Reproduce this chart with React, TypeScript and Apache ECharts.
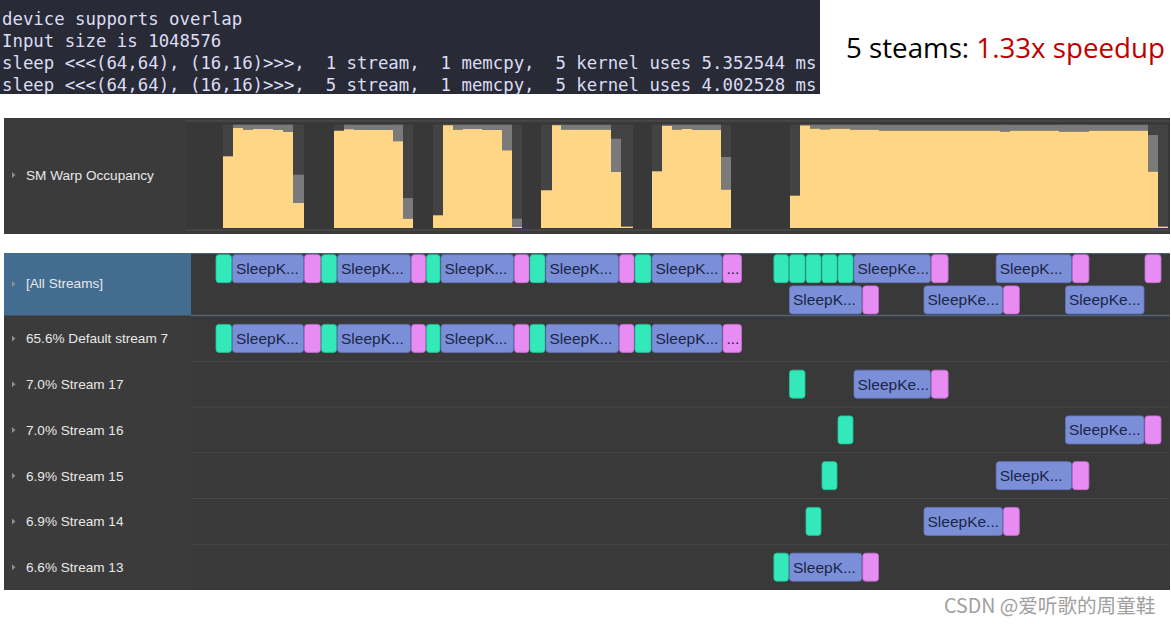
import React, { useEffect, useRef } from "react";
import * as echarts from "echarts";

// ---------- data ----------
const terminalLines = [
  "device supports overlap",
  "Input size is 1048576",
  "sleep <<<(64,64), (16,16)>>>,  1 stream,  1 memcpy,  5 kernel uses 5.352544 ms",
  "sleep <<<(64,64), (16,16)>>>,  5 stream,  1 memcpy,  5 kernel uses 4.002528 ms",
];
const titleBlack = "5 steams: ";
const titleRed = "1.33x speedup";
const watermark = "CSDN @爱听歌的周童鞋";

// stream rows (timeline)
const streamNames = ["Default stream 7", "Stream 17", "Stream 16", "Stream 15", "Stream 14", "Stream 13"];
const streamShare = [65.6, 7.0, 7.0, 6.9, 6.9, 6.6];
const allLanes = ["lane 1", "lane 2"];

// kinds: 0 = Memcpy HtoD, 1 = kernel, 2 = Memcpy DtoH
const kindNames = ["Memcpy HtoD (Pageable -> Device)", "SleepKernel", "Memcpy DtoH (Device -> Pageable)"];

// [streamIndex, kind, start, end, laneInAllStreams]  (time axis units)
const operations: number[][] = [
  [0, 0, 29.5, 46, 0], [0, 1, 46, 118, 0], [0, 2, 118, 135, 0],
  [0, 0, 135, 151, 0], [0, 1, 151, 225, 0], [0, 2, 225, 240, 0],
  [0, 0, 240, 254.5, 0], [0, 1, 254.5, 328, 0], [0, 2, 328, 343.5, 0],
  [0, 0, 343.5, 359.5, 0], [0, 1, 359.5, 433, 0], [0, 2, 433, 448.5, 0],
  [0, 0, 448.5, 465.5, 0], [0, 1, 465.5, 536.5, 0], [0, 2, 536.5, 556, 0],
  [5, 0, 587.4, 603, 0], [5, 1, 603, 676.3, 1], [5, 2, 676.3, 693, 1],
  [1, 0, 603, 619.5, 0], [1, 1, 667.5, 745, 0], [1, 2, 745, 762.6, 0],
  [4, 0, 619.5, 635.5, 0], [4, 1, 737.5, 817, 1], [4, 2, 817, 833.8, 1],
  [3, 0, 635.5, 651.5, 0], [3, 1, 809.7, 886, 0], [3, 2, 886, 903.4, 0],
  [2, 0, 651.5, 667.5, 0], [2, 1, 879, 958.5, 1], [2, 2, 958.5, 975.5, 0],
];

// SM warp occupancy samples: [start, end, occupancy %, max-occupancy % (0 = none)]
const occupancy: number[][] = [
  [37.3, 47.3, 69.4, 0], [47.3, 57.3, 96.8, 100], [57.3, 67.3, 95.2, 100], [67.3, 87.3, 95.8, 100],
  [87.3, 97.3, 94.9, 100], [97.3, 106.7, 92.9, 100], [106.7, 118.3, 24.2, 51.6],
  [148, 158, 94.2, 0], [158, 168, 95.5, 100], [168, 207.3, 94.9, 100], [207.3, 217.3, 83.9, 100],
  [217.3, 226.7, 9.0, 29.0],
  [246.7, 256.7, 12.3, 0], [256.7, 266.7, 99.4, 100], [266.7, 276.7, 95.2, 100], [276.7, 295.7, 95.8, 100],
  [295.7, 316.3, 94.9, 100], [316.3, 325.7, 75.2, 100], [325.7, 335.7, 1.0, 9.0],
  [355.3, 365.7, 36.5, 0], [365.7, 375.3, 99.4, 100], [375.3, 424.7, 95.2, 100], [424.7, 434.7, 54.2, 86.4],
  [434.7, 446.7, 1.3, 0],
  [466.3, 476.3, 54.9, 0], [476.3, 486.3, 98.7, 100], [486.3, 496.3, 95.2, 100], [496.3, 505.7, 95.8, 100],
  [505.7, 535.3, 94.9, 100], [535.3, 545.3, 37.1, 68.7],
  [604.3, 614.3, 31.3, 0], [614.3, 624.3, 99.2, 100], [624.3, 634.3, 96.0, 100], [634.3, 644, 95.4, 100],
  [644, 664, 96.1, 100], [664, 693, 95.2, 100], [693, 814.2, 94.2, 100], [814.2, 823.8, 93.2, 100],
  [823.8, 873.4, 94.2, 100], [873.4, 903, 93.2, 100], [903, 962.4, 94.2, 100], [962.4, 972, 54.5, 90.0],
  [972, 982, 1.3, 0],
];

const timeMax = 984;

// ---------- helpers ----------
const LABEL_FONT = '15.5px "Liberation Sans", Arial, Helvetica, sans-serif';
let measureCtx: CanvasRenderingContext2D | null = null;
function fitText(text: string, avail: number, font: string, ellipsis = "...") {
  if (!measureCtx) measureCtx = document.createElement("canvas").getContext("2d");
  const ctx = measureCtx!;
  ctx.font = font;
  if (ctx.measureText(text).width <= avail) return text;
  for (let n = text.length - 1; n >= 0; n--) {
    const s = text.slice(0, n) + ellipsis;
    if (ctx.measureText(s).width <= avail) return s;
  }
  return "";
}

const kindFill = ["#33e8b9", "#7b8fd9", "#e68cf2"];
const kindStroke = ["#1fc698", "#6475bf", "#c86fd6"];

function renderBlock(params: any, api: any) {
  const lane = api.value(0);
  const start = api.value(1);
  const end = api.value(2);
  const kind = api.value(3);
  const p0 = api.coord([start, lane]);
  const p1 = api.coord([end, lane]);
  const band = api.size([0, 1])[1];
  const h = Math.min(28, band - 3);
  const w = p1[0] - p0[0];
  const left = p0[0] + 0.5;
  const top = p0[1] - h / 2;
  const label = fitText(kindNames[kind], w - 5.6, LABEL_FONT);
  return {
    type: "group",
    children: [
      {
        type: "rect",
        shape: { x: left, y: top, width: w - 1, height: h, r: 3 },
        style: { fill: kindFill[kind], stroke: kindStroke[kind], lineWidth: 0.8 },
      },
      {
        type: "text",
        x: p0[0] + 4,
        y: p0[1],
        style: {
          text: label,
          font: LABEL_FONT,
          fill: "#1b2647",
          verticalAlign: "middle",
          align: "left",
        },
      },
    ],
  };
}

function renderOccupancy(params: any, api: any) {
  const x0 = api.value(0);
  const x1 = api.value(1);
  const v = api.value(2);
  const maxV = api.value(3);
  const bl = api.coord([x0, 0]);
  const tr = api.coord([x1, 100]);
  const left = Math.round(bl[0]);
  const right = Math.round(tr[0]);
  const bottom = bl[1];
  const top = tr[1];
  const yTop = api.coord([x0, v])[1];
  const children: any[] = [
    { type: "rect", shape: { x: left, y: top, width: right - left, height: bottom - top }, style: { fill: "#434343" } },
  ];
  if (maxV > v) {
    const gTop = api.coord([x0, maxV])[1];
    children.push({
      type: "rect",
      shape: { x: left, y: gTop, width: right - left, height: yTop - gTop },
      style: { fill: "#7a7a7a" },
    });
  }
  children.push({
    type: "rect",
    shape: { x: left, y: yTop, width: right - left, height: bottom - yTop },
    style: { fill: "#ffd586" },
  });
  return { type: "group", children };
}

// ---------- layout constants ----------
const rowTop = 315.5;
const rowH = 45.75;

function buildGraphic() {
  const g: any[] = [];
  // terminal
  g.push({ type: "rect", z: 0, shape: { x: 0, y: 0, width: 820, height: 94 }, style: { fill: "#282b36" } });
  terminalLines.forEach((line, i) => {
    g.push({
      type: "text",
      z: 1,
      x: 2,
      y: 19 + i * 21.9,
      style: {
        text: line,
        font: '17.35px "DejaVu Sans Mono", monospace',
        fill: "#dcdcf4",
        verticalAlign: "middle",
      },
    });
  });
  // title
  g.push({
    type: "text",
    z: 1,
    x: 846,
    y: 47,
    style: {
      text: `{a|${titleBlack}}{b|${titleRed}}`,
      font: '27.7px "Open Sans", sans-serif',
      verticalAlign: "middle",
      rich: {
        a: { fill: "#000000", font: '27.7px "Open Sans", sans-serif' },
        b: { fill: "#c00000", font: '27.7px "Open Sans", sans-serif' },
      },
    },
  });

  // SM warp occupancy panel
  g.push({ type: "rect", z: 0, shape: { x: 4, y: 118, width: 1166, height: 116 }, style: { fill: "#3b3b3b" } });
  g.push({ type: "rect", z: 0, shape: { x: 186, y: 121, width: 984, height: 109 }, style: { fill: "#383838" } });
  g.push({ type: "line", z: 1, shape: { x1: 186, y1: 121, x2: 1170, y2: 121 }, style: { stroke: "#4a4a4a", lineWidth: 1.5 } });
  g.push({ type: "line", z: 1, shape: { x1: 186, y1: 230, x2: 1170, y2: 230 }, style: { stroke: "#4a4a4a", lineWidth: 1.5 } });
  const tri = (cy: number) => ({
    type: "polygon",
    z: 2,
    shape: { points: [[12, cy - 3], [12, cy + 3], [15.5, cy]] },
    style: { fill: "#8e8e8e" },
  });
  const lbl = (text: string, cy: number) => ({
    type: "text",
    z: 2,
    x: 26,
    y: cy,
    style: { text, font: '13.6px "Liberation Sans", Arial, sans-serif', fill: "#e8e8e8", verticalAlign: "middle" },
  });
  g.push(tri(175), lbl("SM Warp Occupancy", 175));

  // timeline panel
  g.push({ type: "rect", z: 0, shape: { x: 4, y: 253, width: 1166, height: 337 }, style: { fill: "#393939" } });
  g.push({ type: "rect", z: 0, shape: { x: 4, y: 253, width: 187, height: 337 }, style: { fill: "#3b3b3b" } });
  g.push({ type: "rect", z: 0, shape: { x: 4, y: 253, width: 187, height: 62.5 }, style: { fill: "#426d91" } });
  g.push({ type: "line", z: 1, shape: { x1: 191, y1: 253.5, x2: 1170, y2: 253.5 }, style: { stroke: "#4a6278", lineWidth: 1 } });
  g.push({ type: "line", z: 1, shape: { x1: 191, y1: rowTop, x2: 1170, y2: rowTop }, style: { stroke: "#4d6478", lineWidth: 1.5 } });
  g.push(tri(284), lbl("[All Streams]", 283.5));
  streamNames.forEach((name, i) => {
    const cy = rowTop + rowH * (i + 0.5);
    g.push(tri(cy), lbl(`${streamShare[i].toFixed(1)}% ${name}`, cy + 0.5));
    if (i > 0) {
      const y = rowTop + rowH * i;
      g.push({ type: "line", z: 1, shape: { x1: 191, y1: y, x2: 1170, y2: y }, style: { stroke: "#474747", lineWidth: 1.2 } });
    }
  });

  // watermark
  g.push({
    type: "text",
    z: 1,
    x: 944,
    y: 604,
    style: { text: watermark, font: '19.6px "Noto Sans CJK SC", sans-serif', fill: "#a0a0a0", verticalAlign: "middle" },
  });
  return g;
}

export default function App() {
  const ref = useRef<HTMLDivElement>(null);
  useEffect(() => {
    if (!ref.current) return;
    const chart = echarts.init(ref.current, null, { renderer: "svg" });
    const allData = operations.map((o) => [o[4], o[2], o[3], o[1]]);
    const streamData = operations.map((o) => [o[0], o[2], o[3], o[1]]);
    const xAxisBase = { type: "value", min: 0, max: timeMax, show: false };
    chart.setOption({
      animation: false,
      backgroundColor: "#ffffff",
      grid: [
        { left: 186, top: 124.7, width: timeMax, height: 103.3 },
        { left: 186, top: 253, width: timeMax, height: 62.5 },
        { left: 186, top: rowTop, width: timeMax, height: rowH * streamNames.length },
      ],
      xAxis: [
        { ...xAxisBase, gridIndex: 0 },
        { ...xAxisBase, gridIndex: 1 },
        { ...xAxisBase, gridIndex: 2 },
      ],
      yAxis: [
        { type: "value", min: 0, max: 100, show: false, gridIndex: 0 },
        { type: "category", data: allLanes, inverse: true, show: false, gridIndex: 1 },
        { type: "category", data: streamNames, inverse: true, show: false, gridIndex: 2 },
      ],
      graphic: { elements: buildGraphic() },
      series: [
        {
          type: "custom",
          name: "SM Warp Occupancy",
          xAxisIndex: 0,
          yAxisIndex: 0,
          z: 10,
          renderItem: renderOccupancy,
          encode: { x: [0, 1], y: 2 },
          data: occupancy,
          silent: true,
        },
        {
          type: "custom",
          name: "All Streams",
          xAxisIndex: 1,
          yAxisIndex: 1,
          z: 10,
          renderItem: renderBlock,
          encode: { x: [1, 2], y: 0 },
          data: allData,
          silent: true,
        },
        {
          type: "custom",
          name: "Streams",
          xAxisIndex: 2,
          yAxisIndex: 2,
          z: 10,
          renderItem: renderBlock,
          encode: { x: [1, 2], y: 0 },
          data: streamData,
          silent: true,
        },
      ],
    });
    return () => chart.dispose();
  }, []);
  return (
    <div
      ref={ref}
      style={{ position: "fixed", left: 0, top: 0, width: 1171, height: 624, background: "#ffffff" }}
    />
  );
}
